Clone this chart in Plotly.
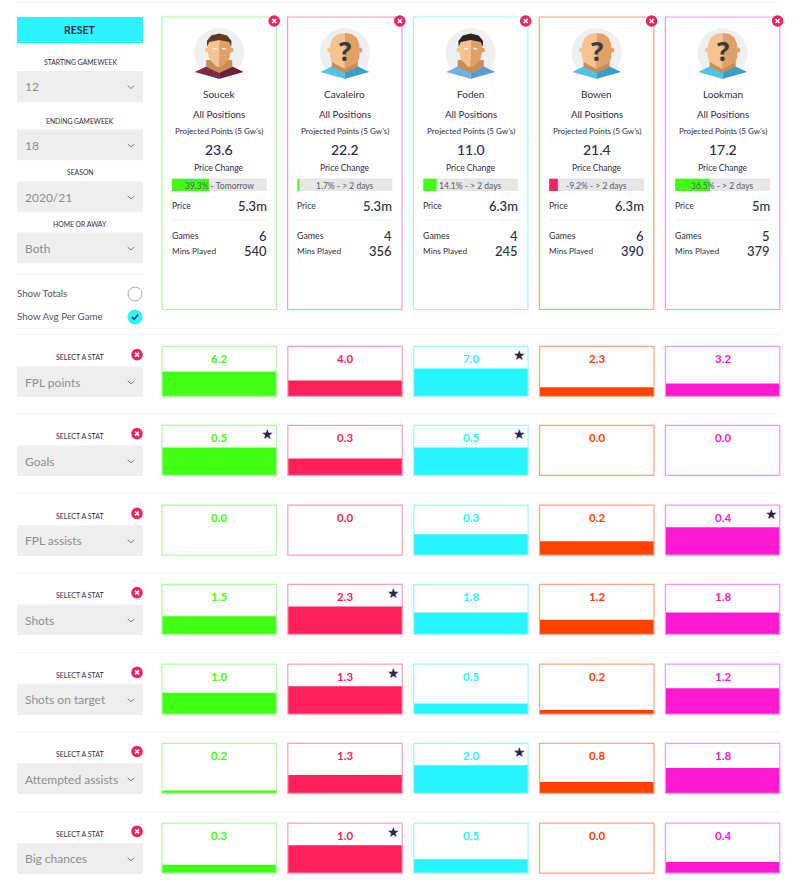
import plotly.graph_objects as go

# players / card values
players = ["Soucek", "Cavaleiro", "Foden", "Bowen", "Lookman"]
projected = ["23.6", "22.2", "11.0", "21.4", "17.2"]
change_pct = [39.3, 1.7, 14.1, -9.2, 36.5]
change_when = ["Tomorrow", "> 2 days", "> 2 days", "> 2 days", "> 2 days"]
prices = ["5.3m", "5.3m", "6.3m", "6.3m", "5m"]
games = [6, 4, 4, 6, 5]
mins_played = [540, 356, 245, 390, 379]

# stat rows
stat_names = ["FPL points", "Goals", "FPL assists", "Shots", "Shots on target",
              "Attempted assists", "Big chances"]
fpl_points = [6.2, 4.0, 7.0, 2.3, 3.2]
goals = [0.5, 0.3, 0.5, 0.0, 0.0]
fpl_assists = [0.0, 0.0, 0.3, 0.2, 0.4]
shots = [1.5, 2.3, 1.8, 1.2, 1.8]
shots_on_target = [1.0, 1.3, 0.5, 0.2, 1.2]
attempted_assists = [0.2, 1.3, 2.0, 0.8, 1.8]
big_chances = [0.3, 1.0, 0.5, 0.0, 0.4]
stat_rows = [fpl_points, goals, fpl_assists, shots, shots_on_target,
             attempted_assists, big_chances]

# left hand filters
filter_labels = ["STARTING GAMEWEEK", "ENDING GAMEWEEK", "SEASON", "HOME OR AWAY"]
filter_values = ["12", "18", "2020/21", "Both"]

colors = ["#41ff14", "#ff1f5a", "#28f4ff", "#ff4200", "#ff19d0"]
borders = ["#aeffa0", "#ff9dba", "#9ff8ff", "#ffa486", "#fb96ec"]
NAVY = "#2e2e4a"
FONT = "Lato"
W, H = 800, 890

col_left = [162, 287.6, 413.5, 539.4, 665.4]
col_w = 114.4
step = 125.85
row_top = [346.4, 425.4, 505.2, 584.4, 664.2, 743.3, 823.2]
row_h = 50
filter_top = [71, 129.5, 181.5, 232.5]

fig = go.Figure()
shapes = []
notes = []


def txt(x, y, s, size=9, color=NAVY, anchor="center", weight=400, family=FONT):
    # annotations sit 2px inside their anchor
    if anchor == "left":
        x -= 2
    elif anchor == "right":
        x += 2
    notes.append(dict(x=x, y=y, text=s, xref="x", yref="y", showarrow=False,
                      xanchor=anchor, yanchor="middle",
                      font=dict(family=family, size=size, color=color, weight=weight)))


def rect(x0, y0, x1, y1, fill, line=None, width=1, layer="below"):
    shapes.append(dict(type="rect", xref="x", yref="y", x0=x0, y0=y0, x1=x1, y1=y1,
                       fillcolor=fill, line=dict(color=line or fill, width=width if line else 0),
                       layer=layer))


def hline(x0, x1, y, color="#f3f3f3"):
    shapes.append(dict(type="line", xref="x", yref="y", x0=x0, x1=x1, y0=y, y1=y,
                       line=dict(color=color, width=1), layer="below"))


def poly(cx, cy, pts, fill, close=True, line=None, width=1, layer="below"):
    p = "M " + " L ".join(f"{cx + a:.1f} {cy + b:.1f}" for a, b in pts)
    if close:
        p += " Z"
    shapes.append(dict(type="path", xref="x", yref="y", path=p,
                       fillcolor=fill if close else "rgba(0,0,0,0)",
                       line=dict(color=line or fill, width=width if (line or not close) else 0),
                       layer=layer))


def circle(cx, cy, r, fill, line=None, width=1, layer="below"):
    shapes.append(dict(type="circle", xref="x", yref="y", x0=cx - r, x1=cx + r,
                       y0=cy - r, y1=cy + r, fillcolor=fill,
                       line=dict(color=line or fill, width=width if line else 0), layer=layer))


def chevron(x, y):
    poly(x, y, [(-3.3, -1.5), (0, 1.5), (3.3, -1.5)], None, close=False, line="#7d7d7d", width=1)


def close_icon(x, y):
    circle(x, y, 5.8, "#f0245f", layer="above")
    poly(x, y, [(-2, -2), (2, 2)], None, close=False, line="white", width=1.5, layer="above")
    poly(x, y, [(-2, 2), (2, -2)], None, close=False, line="white", width=1.5, layer="above")


def dropdown(top, value):
    rect(17, top, 143, top + 30.7, "#eeeeee")
    txt(25, top + 15.7, value, size=12, color="#8e8e8e", anchor="left")
    chevron(131, top + 16)


def avatar(cx, cy, shirt_l, shirt_r, face=None, hair=None):
    circle(cx, cy, 25, "#eeeff0")
    skin_l, skin_r, neck = "#f5c391", "#e0a066", "#c98c55"
    # shirt
    poly(cx, cy, [(-24.5, 19), (-12, 13), (0, 18), (0, 26), (-3, 25)], shirt_l)
    poly(cx, cy, [(24.5, 19), (12, 13), (0, 18), (0, 26), (3, 25)], shirt_r)
    # neck
    poly(cx, cy, [(-13, 7), (13, 7), (13, 14), (0, 20), (-13, 14)], neck)
    if face:
        # ears + face
        circle(cx - 12, cy - 3, 2.3, skin_l)
        circle(cx + 12, cy - 3, 2.3, skin_r)
        poly(cx, cy, [(-11, -14), (0, -15), (0, 14), (-3, 13.5), (-10, 6), (-11.5, -2)], skin_l)
        poly(cx, cy, [(11, -14), (0, -15), (0, 14), (3, 13.5), (10, 6), (11.5, -2)], skin_r)
        poly(cx, cy, [(-12, -6), (-12.3, -12), (-8, -17.5), (0, -19.5), (8, -17.5), (12.3, -12), (12, -6),
                      (10, -11), (0, -13), (-10, -11)], hair)
        poly(cx, cy, [(-7, -4.6), (-2.8, -5.2), (-2.8, -3.8), (-6.5, -3.6)], "white")
        poly(cx, cy, [(7, -4.6), (2.8, -5.2), (2.8, -3.8), (6.5, -3.6)], "white")
    else:
        # blank head with a question mark
        circle(cx - 15, cy - 3, 2.6, skin_l)
        circle(cx + 15, cy - 3, 2.6, skin_r)
        poly(cx, cy, [(0, -20), (-7, -19), (-12, -15), (-14.5, -9), (-14.8, 4), (-13, 9),
                      (-6, 13), (0, 16)], skin_l)
        poly(cx, cy, [(0, -20), (7, -19), (12, -15), (14.5, -9), (14.8, 4), (13, 9),
                      (6, 13), (0, 16)], skin_r)
        txt(cx, cy - 2, "?", size=26, color="#3a3a3a", weight=700, family="Open Sans")


# ---- overlay axes in page pixels, everything decorative hangs off these
fig.add_trace(go.Scatter(x=[0], y=[0], mode="none", hoverinfo="skip", showlegend=False))

# ---- left panel
hline(16, 780, 2.5)
rect(17, 17, 143, 43, "#2df3ff")
txt(80, 30, "RESET", size=10.5, weight=700)
filter_label_y = [62, 120.5, 172, 223.5]
for lab, val, top, ly in zip(filter_labels, filter_values, filter_top, filter_label_y):
    txt(80, ly, lab, size=6.8)
    dropdown(top, val)
hline(17, 143, 274)
txt(17, 293, "Show Totals", size=9.7, color="#55556a", anchor="left")
circle(135, 294, 7, "white", line="#aaaaaa", width=1)
txt(17, 316, "Show Avg Per Game", size=9.7, color="#55556a", anchor="left")
circle(135, 317, 7.5, "#2df3ff")
poly(135, 317, [(-3, 0), (-0.8, 2.2), (3, -2.2)], None, close=False, line=NAVY, width=1.6)

for y in [334.7, 414, 493.3, 573.3, 652.7, 732.3, 812]:
    hline(16, 780, y)

# ---- player cards
avatar_args = [("#7d2a42", "#6a2036", True, "#5b3b25"),
               ("#4fc4e2", "#3a9fc6", False, None),
               ("#6cb2e4", "#5a9cd0", True, "#2b2422"),
               ("#4fc4e2", "#3a9fc6", False, None),
               ("#4fc4e2", "#3a9fc6", False, None)]
for i, name in enumerate(players):
    x0 = col_left[i]
    xc = x0 + col_w / 2
    right = x0 + col_w - 9.7
    left = x0 + 9.7
    rect(x0, 17, x0 + col_w, 309.5, "rgba(0,0,0,0)", line=borders[i], width=1.2, layer="above")
    close_icon(x0 + col_w - 2.2, 21)
    sl, sr, face, hair = avatar_args[i]
    avatar(xc, 53, sl, sr, face, hair)
    txt(xc, 94, name, size=10)
    txt(xc, 113.7, "All Positions", size=9.7)
    txt(xc, 130.5, "Projected Points (5 Gw's)", size=8.1)
    txt(xc, 149, projected[i], size=14, weight=500)
    txt(xc, 168, "Price Change", size=8.5)
    rect(left, 178.5, right, 191, "#e4e6e8")
    txt(xc, 186, f"{change_pct[i]}% - {change_when[i]}", size=8.5, color="#5a5a68")
    txt(left, 205.5, "Price", size=8.5, anchor="left")
    txt(right, 206, prices[i], size=13, anchor="right", weight=500)
    hline(left, right, 220)
    txt(left, 235.5, "Games", size=8.8, anchor="left")
    txt(right, 236, str(games[i]), size=13, anchor="right", weight=500)
    txt(left, 251, "Mins Played", size=8.3, anchor="left")
    txt(right, 251, str(mins_played[i]), size=13, anchor="right", weight=500)

layout_axes = {
    "xaxis": dict(range=[0, W], domain=[0, 1], visible=False, fixedrange=True),
    "yaxis": dict(range=[H, 0], domain=[0, 1], visible=False, fixedrange=True),
    # shared x for all stat rows, one unit per player
    "xaxis2": dict(range=[-0.5, 4.5],
                   domain=[(col_left[0] + col_w / 2 - step / 2) / W,
                           (col_left[4] + col_w / 2 + step / 2) / W],
                   visible=False, anchor="y2", fixedrange=True),
}

# ---- stat rows
columns = list(range(5))
bar_w = col_w / step
for r, values in enumerate(stat_rows):
    n = r + 2
    top = row_top[r]
    yname = f"yaxis{n}"
    # tallest bar in a row fills 28px of the 50px box
    ymax = max(values) * row_h / 28
    layout_axes[yname] = dict(range=[0, ymax], visible=False, anchor="x2", fixedrange=True,
                              domain=[1 - (top + row_h) / H, 1 - top / H])
    fig.add_trace(go.Bar(x=columns, y=values, width=bar_w, marker=dict(color=colors, line=dict(width=0)),
                         xaxis="x2", yaxis=f"y{n}", showlegend=False, hoverinfo="skip"))
    txt(80, top + 10.8, "SELECT A STAT", size=7)
    close_icon(137, top + 8.2)
    dropdown(top + 20, stat_names[r])
    for i in columns:
        shapes.append(dict(type="rect", xref="x2", yref=f"y{n} domain", x0=i - bar_w / 2,
                           x1=i + bar_w / 2, y0=0, y1=1, line=dict(color=borders[i], width=1.2),
                           fillcolor="rgba(0,0,0,0)", layer="above"))
        notes.append(dict(x=i, y=1 - 12 / row_h, xref="x2", yref=f"y{n} domain", showarrow=False,
                          text=f"{values[i]:.1f}", yanchor="middle",
                          font=dict(family=FONT, size=11.5, color=colors[i], weight=700)))
        if values[i] == max(values):
            notes.append(dict(x=i, y=1 - 8.7 / row_h, xref="x2", yref=f"y{n} domain",
                              showarrow=False, text="★", xshift=48.5, yanchor="middle",
                              font=dict(family="DejaVu Sans", size=14, color="#2e2250")))

# ---- price change bars, each on its own x axis over the grey strip
layout_axes["yaxis9"] = dict(range=[-0.5, 0.5], visible=False, anchor="x3", fixedrange=True,
                             domain=[1 - 191 / H, 1 - 178.5 / H])
for i, pct in enumerate(change_pct):
    n = i + 3
    left = col_left[i] + 9.7
    right = col_left[i] + col_w - 9.7
    layout_axes[f"xaxis{n}"] = dict(range=[0, 100], domain=[left / W, right / W], visible=False,
                                    anchor="y9", fixedrange=True)
    fig.add_trace(go.Bar(x=[abs(pct)], y=[0], width=1, orientation="h",
                         marker=dict(color="#41ff14" if pct >= 0 else "#f0245f", line=dict(width=0)),
                         xaxis=f"x{n}", yaxis="y9", showlegend=False, hoverinfo="skip"))

fig.update_layout(width=W, height=H, margin=dict(l=0, r=0, t=0, b=0), autosize=False,
                  paper_bgcolor="white", plot_bgcolor="rgba(0,0,0,0)", barmode="overlay",
                  shapes=shapes, annotations=notes, showlegend=False, **layout_axes)

fig.write_html("out.html", config={"displayModeBar": False},
               post_script="document.body.style.margin='0';")
